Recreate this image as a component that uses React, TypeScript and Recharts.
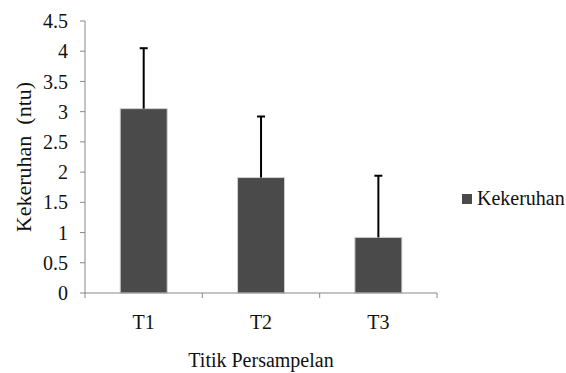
import { BarChart, Bar, XAxis, YAxis, Label } from 'recharts'

const categories = ['T1', 'T2', 'T3']
const turbidity = [3.05, 1.91, 0.92]
const turbidityErr = [1.0, 1.01, 1.02]
const yTicks = [0, 0.5, 1, 1.5, 2, 2.5, 3, 3.5, 4, 4.5]

const data = categories.map((c, i) => ({
  name: c,
  Kekeruhan: turbidity[i],
  err: turbidityErr[i],
}))

const FONT = '"Liberation Serif", serif'
const AXIS = '#888888'
const BAR = '#4a4a4a'

function XTick(props: any) {
  const { x, y, payload, index } = props
  const half = payload?.offset || 58.67
  const axisY = y - 22
  return (
    <g>
      <line x1={x - half} y1={axisY} x2={x - half} y2={axisY + 5} stroke={AXIS} />
      {index === categories.length - 1 && (
        <line x1={x + half} y1={axisY} x2={x + half} y2={axisY + 5} stroke={AXIS} />
      )}
      <text x={x} y={y} dy="0.71em" textAnchor="middle" fill="#111" style={{ fontSize: 20, fontFamily: FONT }}>
        {payload.value}
      </text>
    </g>
  )
}

function YTick(props: any) {
  const { x, y, payload } = props
  return (
    <text x={x} y={y} dy="0.355em" textAnchor="end" fill="#111" style={{ fontSize: 20, fontFamily: FONT }}>
      {payload.value}
    </text>
  )
}

// bar plus an upward-only error whisker, scaled from the bar's own geometry
function BarWithError(props: any) {
  const { x, y, width, height, payload } = props
  const perUnit = height / payload.Kekeruhan
  const top = y - payload.err * perUnit
  const cx = x + width / 2
  return (
    <g>
      <rect x={x} y={y} width={width} height={height} fill={BAR} stroke="#d0d0d0" strokeWidth={1} />
      <line x1={cx} y1={y} x2={cx} y2={top} stroke="#000" strokeWidth={2} />
      <line x1={cx - 4} y1={top} x2={cx + 4} y2={top} stroke="#000" strokeWidth={2} />
    </g>
  )
}

export default function App() {
  return (
    <div style={{ position: 'absolute', left: 0, top: 0, width: 566, height: 373, background: '#fff' }}>
      <BarChart
        width={566}
        height={373}
        data={data}
        margin={{ top: 21, right: 129, left: 0, bottom: 0 }}
        barCategoryGap="30%"
      >
        <XAxis
          dataKey="name"
          height={80}
          stroke={AXIS}
          tickLine={false}
          tickSize={5}
          tickMargin={17}
          tick={<XTick />}
        >
          <Label
            content={(p: any) => {
              const vb = p.viewBox || { x: 85, width: 352 }
              return (
                <text
                  x={vb.x + vb.width / 2}
                  y={367}
                  textAnchor="middle"
                  fill="#111"
                  style={{ fontSize: 20, fontFamily: FONT }}
                >
                  Titik Persampelan
                </text>
              )
            }}
          />
        </XAxis>
        <YAxis
          width={85}
          domain={[0, 4.5]}
          ticks={yTicks}
          interval={0}
          stroke={AXIS}
          tickSize={5}
          tickMargin={12}
          tick={<YTick />}
        >
          <Label
            content={() => (
              <text
                x={23}
                y={157}
                transform="rotate(-90 23 157)"
                textAnchor="middle"
                dominantBaseline="central"
                fill="#111"
                style={{ fontSize: 22, fontFamily: FONT, whiteSpace: 'pre' }}
              >
                {'Kekeruhan  (ntu)'}
              </text>
            )}
          />
        </YAxis>
        <Bar dataKey="Kekeruhan" fill={BAR} shape={<BarWithError />} isAnimationActive={false} />
      </BarChart>
      <div
        style={{
          position: 'absolute',
          left: 462,
          top: 187,
          display: 'flex',
          alignItems: 'center',
          fontFamily: FONT,
          fontSize: 20,
          color: '#111',
          whiteSpace: 'nowrap',
        }}
      >
        <span style={{ display: 'inline-block', width: 10, height: 10, background: BAR, marginRight: 5 }} />
        <span>Kekeruhan</span>
      </div>
    </div>
  )
}
